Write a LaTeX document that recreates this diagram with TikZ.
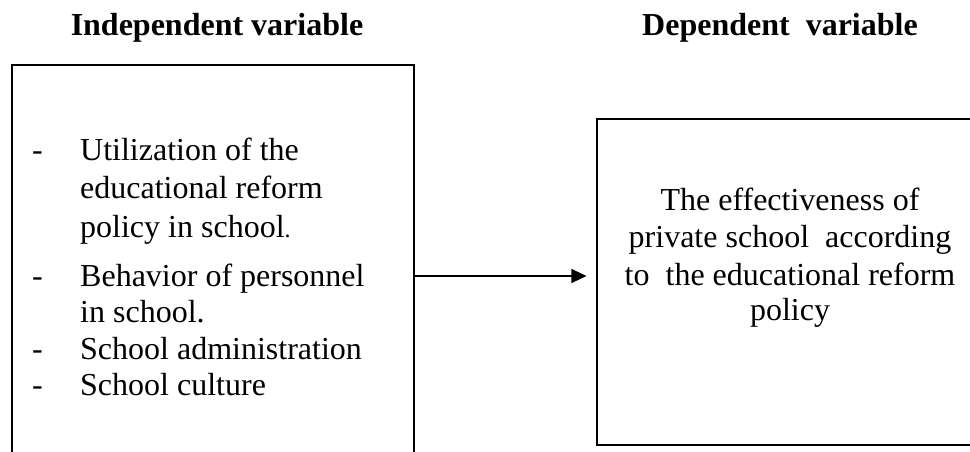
\documentclass[tikz,border=0pt]{standalone}
\usepackage{fontspec}
\setmainfont{Liberation Serif}
\usetikzlibrary{arrows.meta}
\begin{document}
\begin{tikzpicture}[x=1pt,y=-1pt,
  box/.style={draw=black,line width=1.1pt,inner sep=0pt},
  heading/.style={font=\fontsize{32}{37}\selectfont\bfseries,inner sep=0pt,anchor=base},
  txt/.style={font=\fontsize{32}{37}\selectfont,inner sep=0pt,anchor=base west},
  ctr/.style={font=\fontsize{32}{37}\selectfont,inner sep=0pt,anchor=base},
  link/.style={line width=1.1pt,-{Triangle[length=15pt,width=14pt]},shorten >=10pt}]
\useasboundingbox (0,0) rectangle (970,451);
\clip (0,0) rectangle (970,451);

% headings
\node[heading] (hind) at (217,35) {Independent variable};
\node[heading] (hdep) at (780,35) {Dependent\ \ variable};

% boxes (both run past the page edge)
\node[box,minimum width=402pt,minimum height=422pt] (indep) at (213,276) {};
\node[box,minimum width=420pt,minimum height=326pt] (dep) at (807,282) {};

% list of independent variables
\node[txt] (d1) at (32,160) {-};
\node[txt] (l1a) at (80,160) {Utilization of the};
\node[txt] (l1b) at (80,198) {educational reform};
\node[txt] (l1c) at (80,237) {policy in school{\fontsize{24}{28}\selectfont.}};
\node[txt] (d2) at (32,286) {-};
\node[txt] (l2a) at (80,286) {Behavior of personnel};
\node[txt] (l2b) at (80,322) {in school.};
\node[txt] (d3) at (32,359) {-};
\node[txt] (l3) at (80,359) {School administration};
\node[txt] (d4) at (32,395) {-};
\node[txt] (l4) at (80,395) {School culture};

% dependent variable text
\node[ctr] (r1) at (790,210) {The effectiveness of};
\node[ctr] (r2) at (790,247) {private school\ \ according};
\node[ctr] (r3) at (790,285) {to\ \ the educational reform};
\node[ctr] (r4) at (790,320) {policy};

% connector
\draw[link] (indep.east) -- (indep.east -| dep.west);
\end{tikzpicture}
\end{document}
